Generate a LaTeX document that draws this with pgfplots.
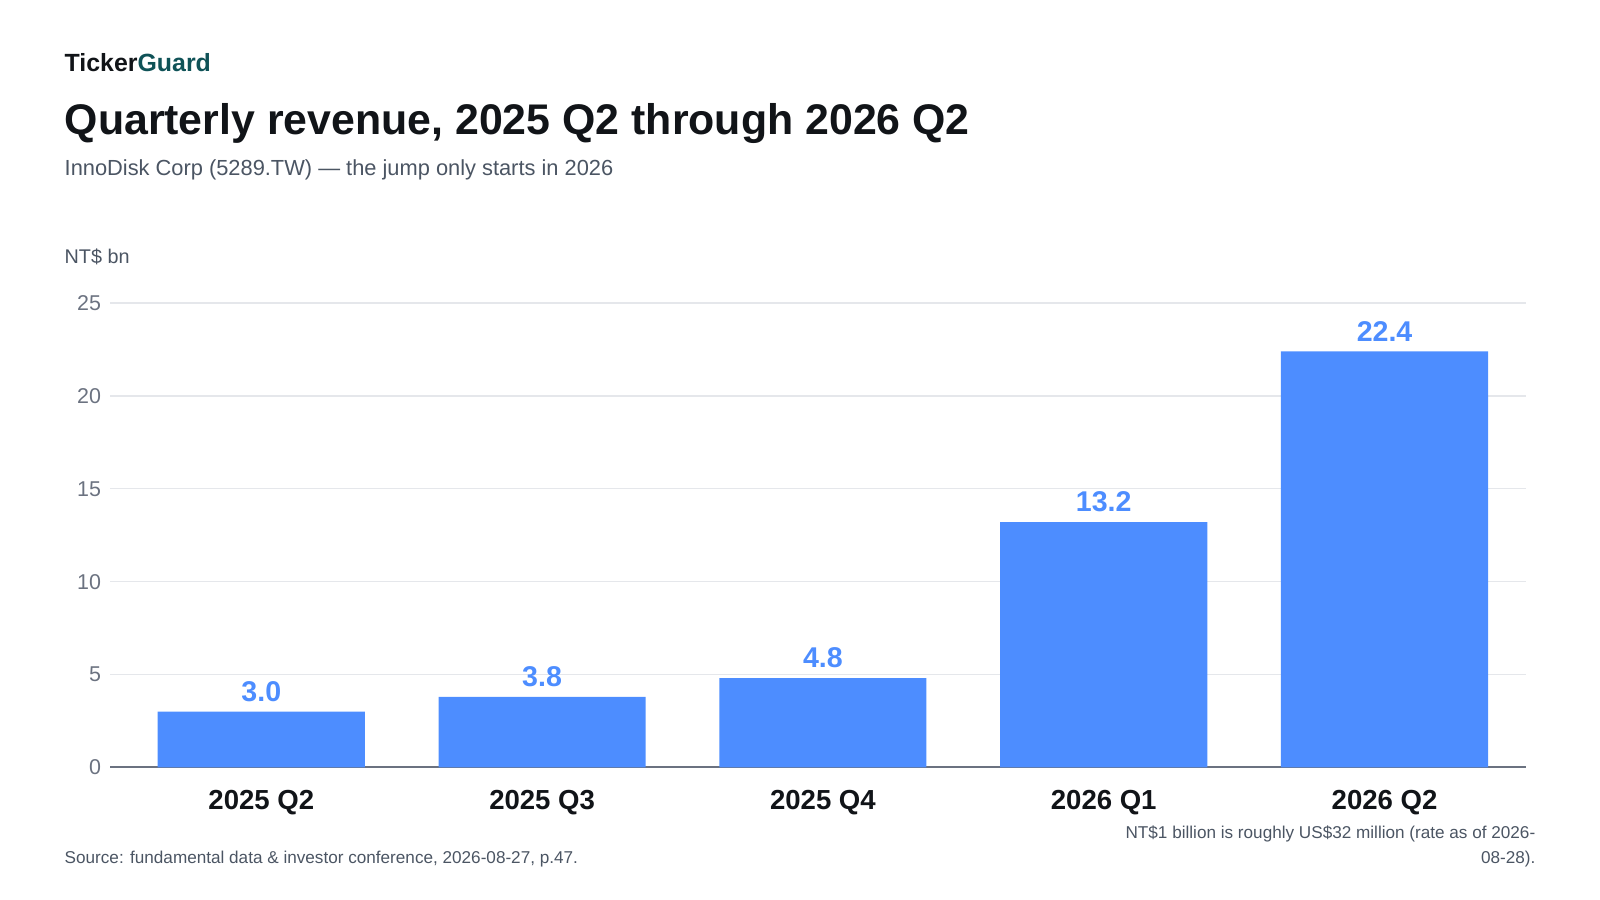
\documentclass[border=0pt]{standalone}
\usepackage{pgfplots}
\pgfplotsset{compat=1.18}
\usepackage{fontspec}
\setmainfont{Liberation Sans}
\definecolor{barblue}{HTML}{4D8DFF}
\definecolor{tgteal}{HTML}{0F5257}
\definecolor{ink}{HTML}{111418}
\definecolor{subgray}{HTML}{4B5563}
\definecolor{tickgray}{HTML}{6B7280}
\definecolor{gridgray}{HTML}{E5E7EB}
\begin{document}
\begin{tikzpicture}[x=0.5pt,y=0.5pt]
\useasboundingbox (0,0) rectangle (1568,-882);
\node[anchor=base west,inner sep=0,font=\bfseries\fontsize{12.2}{14}\selectfont] at (63,-70) {\textcolor{ink}{Ticker}\textcolor{tgteal}{Guard}};
\node[anchor=base west,inner sep=0,font=\bfseries\fontsize{21}{24}\selectfont,text=ink] at (63,-132) {Quarterly revenue, 2025 Q2 through 2026 Q2};
\node[anchor=base west,inner sep=0,font=\fontsize{10.7}{12}\selectfont,text=subgray] at (63,-172) {InnoDisk Corp (5289.TW) — the jump only starts in 2026};
\node[anchor=base west,inner sep=0,font=\fontsize{9.7}{11}\selectfont,text=subgray] at (63,-258) {NT\$ bn};
\begin{axis}[
  at={(54pt,-376pt)}, anchor=south west,
  scale only axis, width=693.5pt, height=227.5pt,
  xmin=-0.538, xmax=4.502, ymin=0, ymax=25,
  ybar, bar width=101.5pt,
  xtick=data, xticklabels={2025 Q2,2025 Q3,2025 Q4,2026 Q1,2026 Q2},
  ytick={0,5,10,15,20,25},
  major tick length=0,
  axis y line=left, axis x line=bottom,
  y axis line style={draw=none},
  x axis line style={-, draw=tickgray, line width=1pt},
  ymajorgrids, grid style={gridgray, line width=0.7pt},
  /pgf/number format/assume math mode=true,
  yticklabel style={font=\fontsize{10.5}{12}\selectfont, text=tickgray, xshift=-1pt},
  xticklabel style={font=\bfseries\fontsize{13.5}{15}\selectfont, text=ink, yshift=-7.5pt},
  nodes near coords,
  nodes near coords style={font=\bfseries\fontsize{14}{16}\selectfont, text=barblue, yshift=1.5pt, /pgf/number format/.cd, fixed, fixed zerofill, precision=1, assume math mode=true},
  clip=false,
]
\addplot[fill=barblue, draw=none] coordinates {(0,3.0) (1,3.8) (2,4.8) (3,13.2) (4,22.4)};
\end{axis}
\node[anchor=base west,inner sep=0,font=\fontsize{8.4}{10}\selectfont,text=subgray] at (63,-846) {Source: fundamental data \& investor conference, 2026-08-27, p.47.};
\node[anchor=base east,inner sep=0,font=\fontsize{8.4}{10}\selectfont,text=subgray] at (1505,-822) {NT\$1 billion is roughly US\$32 million (rate as of 2026-};
\node[anchor=base east,inner sep=0,font=\fontsize{8.4}{10}\selectfont,text=subgray] at (1505,-846) {08-28).};
\end{tikzpicture}
\end{document}
